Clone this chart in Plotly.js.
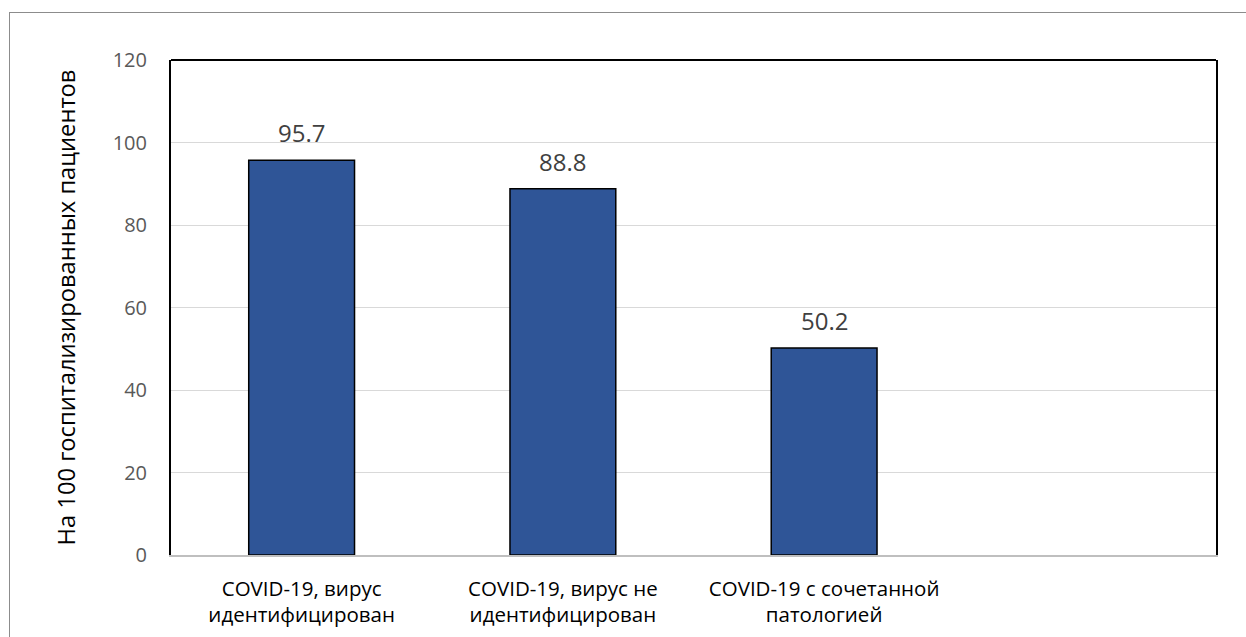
<!DOCTYPE html>
<html>
<head>
<meta charset="utf-8">
<script src="https://cdn.plot.ly/plotly-3.0.1.min.js"></script>
<style>
  html, body { margin: 0; padding: 0; background: #ffffff; overflow: hidden; }
  #frame { position: absolute; left: 9px; top: 12px; width: 1300px; height: 700px;
           border: 1.5px solid #8c8c8c; box-sizing: border-box; pointer-events: none; z-index: 2; }
  #chart { width: 1246px; height: 637px; }
</style>
</head>
<body>
<div id="frame"></div>
<div id="chart"></div>
<script>
// Hospitalisation rates per 100 hospitalised patients
const categories = [
  'COVID-19, вирус<br>идентифицирован',
  'COVID-19, вирус не<br>идентифицирован',
  'COVID-19 с сочетанной<br>патологией'
];
const values = [95.7, 88.8, 50.2];
const yTicks = [0, 20, 40, 60, 80, 100, 120];
const yTitle = 'На 100 госпитализированных пациентов';

const font = '"Open Sans", "Noto Sans", sans-serif';
const xPos = categories.map((_, i) => i);

const trace = {
  type: 'bar',
  x: xPos,
  y: values,
  width: 0.405,
  marker: { color: '#2f5597', line: { color: '#000000', width: 1.5 } },
  hoverinfo: 'skip'
};

// value labels above each bar
const labels = values.map((v, i) => ({
  x: xPos[i], y: v, xref: 'x', yref: 'y',
  text: v.toFixed(1), showarrow: false,
  yanchor: 'bottom', yshift: 9,
  font: { family: font, size: 24, color: '#404040' }
}));

const layout = {
  width: 1246,
  height: 637,
  margin: { l: 171, r: 30, t: 60, b: 82 },
  paper_bgcolor: '#ffffff',
  plot_bgcolor: '#ffffff',
  showlegend: false,
  bargap: 0,
  xaxis: {
    range: [-0.5, 3.5],
    tickvals: xPos,
    ticktext: categories,
    tickfont: { family: font, size: 20.5, color: '#000000' },
    ticks: '',
    ticklabelstandoff: 14,
    showgrid: false,
    zeroline: false,
    showline: true,
    linecolor: '#bfbfbf',
    linewidth: 2,
    fixedrange: true
  },
  yaxis: {
    range: [0, 120],
    tickvals: yTicks,
    tickfont: { family: font, size: 20, color: '#595959' },
    ticks: '',
    ticklen: 0,
    ticklabelstandoff: 18,
    showgrid: true,
    gridcolor: '#d9d9d9',
    gridwidth: 1,
    zeroline: false,
    showline: true,
    mirror: true,
    linecolor: '#000000',
    linewidth: 2,
    title: { text: yTitle, font: { family: font, size: 23.7, color: '#000000' }, standoff: 30 },
    fixedrange: true
  },
  annotations: labels,
  shapes: [
    { type: 'line', xref: 'paper', yref: 'paper', x0: 0, x1: 1, y0: 1, y1: 1,
      line: { color: '#000000', width: 2 } }
  ]
};

Plotly.newPlot('chart', [trace], layout, { displayModeBar: false, staticPlot: true });
</script>
</body>
</html>
